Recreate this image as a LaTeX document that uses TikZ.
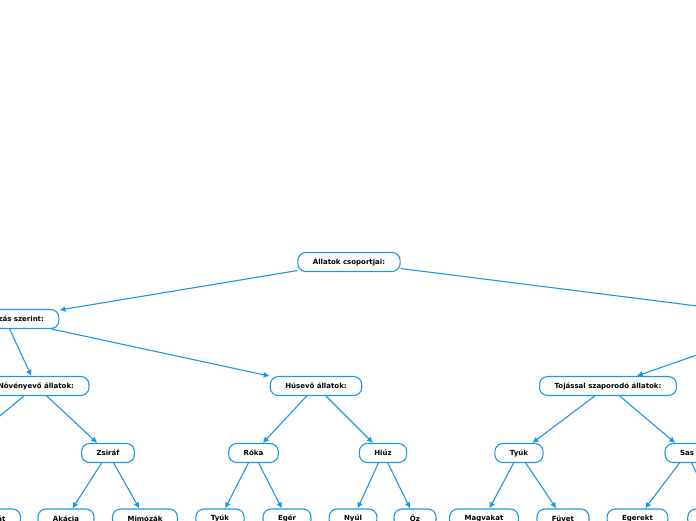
\documentclass[tikz,border=0pt]{standalone}
\usepackage{fontspec}
\newfontfamily\mapfont{DejaVu Sans}
\usetikzlibrary{arrows.meta}
\definecolor{mapblue}{RGB}{28,150,232}

\begin{document}
\begin{tikzpicture}[x=1pt, y=-1pt,
        topic/.style={draw=mapblue, line width=1.1pt, rounded corners=8pt, fill=white, minimum height=19pt, minimum width=42pt, inner xsep=15pt, inner ysep=0pt, font=\mapfont\bfseries\fontsize{7}{8.5}\selectfont},
        flow/.style={-{Latex[length=6pt, width=6pt]}, line width=1.1pt, mapblue}
    ]
        \useasboundingbox (0,0) rectangle (696,520);
        \clip (0,0) rectangle (696,520);

        \node[topic] (root) at (349,262) {Állatok csoportjai:};

        \node[topic] (taplal) at (5,319) {Táplálkozás szerint:};
        \coordinate (szapor) at (800,319);

        \node[topic] (noveny) at (36,386) {Növényevő állatok:};
        \node[topic] (husevo) at (316,386) {Húsevő állatok:};
        \node[topic] (tojas) at (608,386) {Tojással szaporodó állatok:};

        \coordinate (lo) at (-45,453);
        \node[topic] (zsiraf) at (108,453) {Zsiráf};
        \node[topic] (roka) at (253.5,453) {Róka};
        \node[topic] (hiuz) at (383,453) {Hiúz};
        \node[topic] (tyuk) at (519,453) {Tyúk};
        \node[topic] (sas) at (687,453) {Sas};

        \node[topic] (szena) at (-8,518.5) {Szénát};
        \node[topic] (akacia) at (66,518.5) {Akácia};
        \node[topic] (mimozak) at (145,518.5) {Mimózák};
        \node[topic] (tyukfox) at (220,518.5) {Tyúk};
        \node[topic] (eger) at (287,518.5) {Egér};
        \node[topic] (nyul) at (353,518.5) {Nyúl};
        \node[topic] (oz) at (415,518.5) {Őz};
        \node[topic] (magvak) at (484,518.5) {Magvakat};
        \node[topic] (fuvet) at (563,518.5) {Füvet};
        \node[topic] (egerek) at (637.5,518.5) {Egerekt};
        \node[topic] (halak) at (718,518.5) {Halakat};

        \draw[flow] (root) -- (taplal);
        \draw[flow] (root) -- (szapor);
        \draw[flow] (taplal) -- (noveny);
        \draw[flow] (taplal) -- (husevo);
        \draw[flow] (szapor) -- (tojas);
        \draw[flow] (noveny) -- (lo);
        \draw[flow] (noveny) -- (zsiraf);
        \draw[flow] (husevo) -- (roka);
        \draw[flow] (husevo) -- (hiuz);
        \draw[flow] (tojas) -- (tyuk);
        \draw[flow] (tojas) -- (sas);
        \draw[flow] (lo) -- (szena);
        \draw[flow] (zsiraf) -- (akacia);
        \draw[flow] (zsiraf) -- (mimozak);
        \draw[flow] (roka) -- (tyukfox);
        \draw[flow] (roka) -- (eger);
        \draw[flow] (hiuz) -- (nyul);
        \draw[flow] (hiuz) -- (oz);
        \draw[flow] (tyuk) -- (magvak);
        \draw[flow] (tyuk) -- (fuvet);
        \draw[flow] (sas) -- (egerek);
        \draw[flow] (sas) -- (halak);
    \end{tikzpicture}
\end{document}
